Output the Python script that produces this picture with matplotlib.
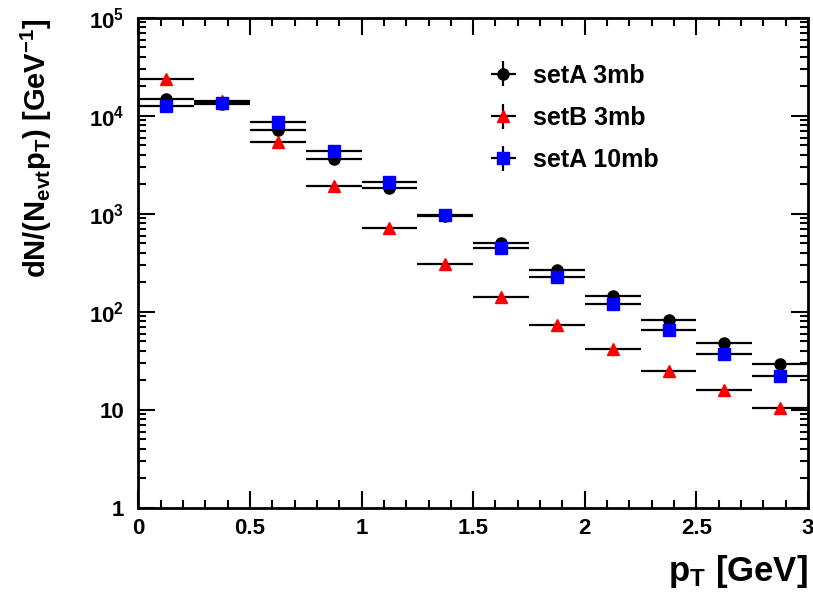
import numpy as np
import matplotlib
matplotlib.use('Agg')
import matplotlib.pyplot as plt
from matplotlib.ticker import MultipleLocator, LogLocator, NullFormatter

plt.rcParams['font.family'] = ['Liberation Sans', 'DejaVu Sans']
plt.rcParams['font.weight'] = 'bold'
plt.rcParams['mathtext.fontset'] = 'custom'
plt.rcParams['mathtext.rm'] = 'Liberation Sans:bold'
plt.rcParams['mathtext.bf'] = 'Liberation Sans:bold'
plt.rcParams['mathtext.it'] = 'Liberation Sans:bold'
plt.rcParams['mathtext.default'] = 'bf'

# bin centres and half widths (GeV)
pt = [0.125, 0.375, 0.625, 0.875, 1.125, 1.375, 1.625, 1.875, 2.125, 2.375, 2.625, 2.875]
pt_err = [0.125] * 12

setA_3mb = [14900, 13200, 7200, 3670, 1840, 960, 505, 268, 147, 83, 48, 29.3]
setB_3mb = [24000, 14300, 5430, 1930, 725, 307, 142, 74.3, 41.6, 25.2, 15.9, 10.6]
setA_10mb = [12650, 13700, 8630, 4430, 2105, 980, 453, 229, 120, 65.5, 37.3, 22.2]

labels = ['setA 3mb', 'setB 3mb', 'setA 10mb']
colors = ['black', 'red', 'blue']
markers = ['o', '^', 's']

x_ticks = [0, 0.5, 1, 1.5, 2, 2.5, 3]
x_ticklabels = ['0', '0.5', '1', '1.5', '2', '2.5', '3']
y_ticks = [1, 10, 100, 1e3, 1e4, 1e5]
y_ticklabels = ['1', '10', '$10^{2}$', '$10^{3}$', '$10^{4}$', '$10^{5}$']

fig = plt.figure(figsize=(8.13, 5.98), dpi=100)
ax = fig.add_axes([0.17, 0.1505, 0.824, 0.8195])

for vals, lab, c, m in zip([setA_3mb, setB_3mb, setA_10mb], labels, colors, markers):
    ax.errorbar(pt, vals, xerr=pt_err, yerr=[v * 0.01 for v in vals], fmt=m, color=c,
                ecolor='black', elinewidth=1.6, markersize=8, label=lab, capsize=0)

ax.set_yscale('log')
ax.set_xlim(0, 3)
ax.set_ylim(1, 1e5)

ax.set_xticks(x_ticks)
ax.set_xticklabels(x_ticklabels)
ax.xaxis.set_minor_locator(MultipleLocator(0.1))
ax.set_yticks(y_ticks)
ax.set_yticklabels(y_ticklabels)
ax.yaxis.set_minor_locator(LogLocator(base=10, subs=np.arange(2, 10)))
ax.yaxis.set_minor_formatter(NullFormatter())

ax.tick_params(which='both', direction='in', top=True, right=True, width=1.5, labelsize=16)
ax.tick_params(which='major', length=12)
ax.tick_params(which='minor', length=6)
ax.tick_params(axis='x', pad=7)
ax.tick_params(axis='y', pad=10)
for s in ax.spines.values():
    s.set_linewidth(2)

ax.set_xlabel('p$_{T}$ [GeV]', fontsize=25, fontweight='bold', loc='right', labelpad=10)
ax.set_ylabel('dN/(N$_{evt}$p$_{T}$) [GeV$^{-1}$]', fontsize=21, fontweight='bold', loc='top')
ax.yaxis.set_label_coords(-0.125, 1.0)

ax.legend(loc='upper left', bbox_to_anchor=(0.515, 0.907), frameon=False, fontsize=18,
          handlelength=1.6, handletextpad=0.4, labelspacing=0.73, borderpad=0,
          borderaxespad=0, numpoints=1)

fig.savefig('out.png', dpi=100)
